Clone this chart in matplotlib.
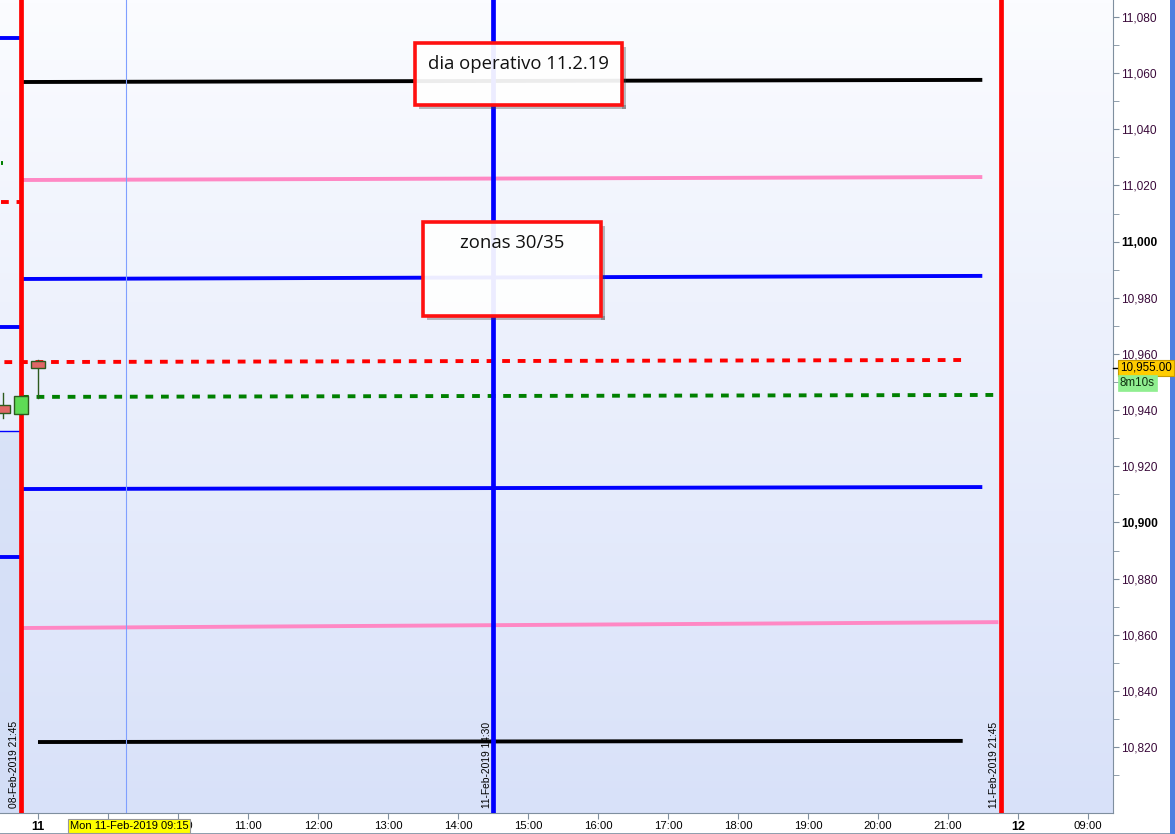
import matplotlib
matplotlib.use('Agg')
import matplotlib.pyplot as plt
import numpy as np
from matplotlib.colors import LinearSegmentedColormap
from matplotlib.patches import Rectangle

# ---------------- data ----------------
# x in hours of session since 11-Feb 08:00 (15-min bars = 0.25)
x_tick_pos = list(range(0, 16))
x_tick_labels = ["11", "09:00", "10:00", "11:00", "12:00", "13:00", "14:00", "15:00",
                 "16:00", "17:00", "18:00", "19:00", "20:00", "21:00", "12", "09:00"]

y_ticks = list(range(10820, 11081, 20))

# candles
candle_x = [-0.5, -0.25, 0.0]
candle_open = [10941.8, 10938.6, 10957.5]
candle_high = [10946.1, 10945.0, 10957.8]
candle_low = [10937.2, 10938.6, 10944.3]
candle_close = [10939.0, 10945.0, 10955.0]

# today's levels (start value, end value, x start, x end)
level_y0 = [11056.85, 11021.95, 10986.7, 10957.1, 10944.7, 10911.9, 10862.4, 10821.8]
level_y1 = [11057.6, 11023.0, 10987.8, 10957.85, 10945.4, 10912.6, 10864.5, 10822.2]
level_x0 = [-0.243, -0.243, -0.243, -0.48, -0.243, -0.243, -0.243, 0.0]
level_x1 = [13.49, 13.49, 13.49, 13.2, 13.67, 13.49, 13.72, 13.21]
level_colors = ["black", "#ff88c4", "#0000ff", "#ff0000", "#008000", "#0000ff", "#ff88c4", "black"]
level_styles = ["-", "-", "-", "dash", "dash", "-", "-", "-"]

# previous day levels (left strip)
prev_levels = [11072.5, 10969.6, 10887.7]
prev_red_dot = 11014.1
prev_green_dot = 11028.0
prev_thin = 10932.7

# vertical markers
vlines_x = [-0.25, 6.5, 13.75]
vlines_colors = ["#ff0000", "#0000ff", "#ff0000"]
vlines_labels = ["08-Feb-2019 21:45", "11-Feb-2019 14:30", "11-Feb-2019 21:45"]
crosshair_x = 1.25

last_price = 10955.00

# ---------------- figure ----------------
W, H = 1175, 834
fig = plt.figure(figsize=(W / 100, H / 100), dpi=100)
fig.patch.set_facecolor("white")
ax = fig.add_axes([0, 21 / H, 1113 / W, 813 / H])

xmin, xmax = -38 / 70, (1113 - 38) / 70
ymin, ymax = 11080 - (813 - 17) / 2.808, 11080 + 17 / 2.808
ax.set_xlim(xmin, xmax)
ax.set_ylim(ymin, ymax)

# gradient background
cmap = LinearSegmentedColormap.from_list("bg", ["#d8e1f9", "#fbfcff"])
grad = np.linspace(0, 1, 256).reshape(-1, 1)
ax.imshow(grad, extent=[xmin, xmax, ymin, ymax], aspect="auto", cmap=cmap,
          origin="lower", zorder=0)
ax.set_autoscale_on(False)

# left strip shading + previous day lines
ax.fill_between([xmin, -0.25], ymin, prev_thin, color="#cfdbf5", alpha=0.6, zorder=1, lw=0)
ax.plot([xmin, -0.25], [prev_thin, prev_thin], color="#0000ff", lw=1.0, zorder=2)
for v in prev_levels:
    ax.plot([xmin, -0.25], [v, v], color="#0000ff", lw=2.8, zorder=2, solid_capstyle="butt")
ax.plot([xmin + 0.02, -0.25], [prev_red_dot, prev_red_dot], color="#ff0000", lw=2.8,
        linestyle=(0, (2, 2)), zorder=2)
ax.plot([xmin + 0.02, xmin + 0.045], [prev_green_dot, prev_green_dot], color="#008000",
        lw=2.8, zorder=2, solid_capstyle="butt")

# levels
for y0, y1, x0, x1, c, s in zip(level_y0, level_y1, level_x0, level_x1, level_colors, level_styles):
    ls = (0, (2, 2)) if s == "dash" else "-"
    ax.plot([x0, x1], [y0, y1], color=c, lw=2.8, linestyle=ls, zorder=3,
            solid_capstyle="butt")

# crosshair
ax.axvline(crosshair_x, color="#7f9fff", lw=0.8, zorder=3)

# vertical lines + rotated labels
for vx, c, lab in zip(vlines_x, vlines_colors, vlines_labels):
    ax.axvline(vx, color=c, lw=3.4, zorder=4)
    ax.text(vx - 0.02, ymin + 1.7, lab, rotation=90, ha="right", va="bottom",
            fontsize=7.4, family="Liberation Sans", color="black", zorder=5)

# candles
bw = 0.2
for x, o, h, l, c in zip(candle_x, candle_open, candle_high, candle_low, candle_close):
    up = c >= o
    ax.plot([x, x], [l, h], color="#2d5a1e", lw=1.0, zorder=5)
    face = "#5edb55" if up else "#e06666"
    ax.add_patch(Rectangle((x - bw / 2, min(o, c)), bw, abs(c - o), facecolor=face,
                           edgecolor="#2d5a1e", lw=1.0, zorder=6))

# text boxes
def note(x0, x1, y0, y1, text, ty):
    dx, dy = 0.06, 1.5
    # drop shadow (right and bottom strips only)
    ax.add_patch(Rectangle((x1, y0 - dy), dx, y1 - y0, facecolor="#444444",
                           alpha=0.35, lw=0, zorder=7))
    ax.add_patch(Rectangle((x0 + dx, y0 - dy), x1 - x0, dy, facecolor="#444444",
                           alpha=0.35, lw=0, zorder=7))
    ax.add_patch(Rectangle((x0, y0), x1 - x0, y1 - y0, facecolor="white", alpha=0.93,
                           edgecolor="none", zorder=8))
    ax.add_patch(Rectangle((x0, y0), x1 - x0, y1 - y0, facecolor="none",
                           edgecolor="#ff1010", lw=2.6, zorder=9))
    ax.text((x0 + x1) / 2, ty, text, ha="center", va="center", fontsize=13.3,
            family="Open Sans", color="#111111", zorder=10)

note(5.386, 8.343, 11048.66, 11070.74, "dia operativo 11.2.19", 11063.3)
note(5.5, 8.043, 10973.5, 11007.0, "zonas 30/35", 10999.6)

# axes styling
for sp in ["top", "left"]:
    ax.spines[sp].set_visible(False)
ax.spines["right"].set_color("#7f8f9f")
ax.spines["bottom"].set_color("#7f8f9f")
ax.yaxis.tick_right()
ax.set_yticks(y_ticks)
ax.set_yticklabels([f"{v:,}" for v in y_ticks])
ax.set_yticks(list(range(10810, 11086, 20)), minor=True)
ax.tick_params(axis="y", which="both", length=4, color="#7f8f9f", pad=2,
               labelsize=8.6, labelcolor="#3a0a3a")
for lab, v in zip(ax.get_yticklabels(), y_ticks):
    lab.set_family("Liberation Sans")
    if v in (11000, 10900):
        lab.set_fontweight("bold")
        lab.set_color("black")

ax.set_xticks(x_tick_pos)
ax.set_xticklabels(x_tick_labels)
ax.tick_params(axis="x", length=4, color="#7f8f9f", pad=2, labelsize=8.2, labelcolor="black")
for lab, t in zip(ax.get_xticklabels(), x_tick_labels):
    lab.set_family("Liberation Sans")
    if ":" not in t:
        lab.set_fontweight("bold")
        lab.set_fontsize(9)

# price label and timer on axis
ax.plot([xmax, xmax + 0.07], [last_price, last_price], color="black", lw=1.0,
        clip_on=False, zorder=11)
fig.text(1120 / W, 1 - 368 / H, f"{last_price:,.2f}", ha="left", va="center", fontsize=8.4,
         family="Liberation Sans", color="black",
         bbox=dict(boxstyle="square,pad=0.15", facecolor="#ffcc00", edgecolor="#c89b00", lw=0.8))
fig.text(1120 / W, 1 - 383 / H, "8m10s", ha="left", va="center", fontsize=8.4,
         family="Liberation Sans", color="#103010",
         bbox=dict(boxstyle="square,pad=0.15", facecolor="#90ee90", edgecolor="#90ee90", lw=0.5))

# crosshair date label
fig.text(70 / W, 1 - 826 / H, "Mon 11-Feb-2019 09:15", ha="left", va="center", fontsize=8.0,
         family="Liberation Sans", color="black", zorder=20,
         bbox=dict(boxstyle="square,pad=0.15", facecolor="#ffff00", edgecolor="#999999", lw=0.8))

# right window border and bottom line
fig.add_artist(Rectangle((1170 / W, 0), 5 / W, 1, transform=fig.transFigure,
                         facecolor="#4f7fe0", edgecolor="none"))
fig.add_artist(Rectangle((0, 0), 1170 / W, 1.5 / H, transform=fig.transFigure,
                         facecolor="#8f9faf", edgecolor="none"))

fig.savefig("out.png", dpi=100)
